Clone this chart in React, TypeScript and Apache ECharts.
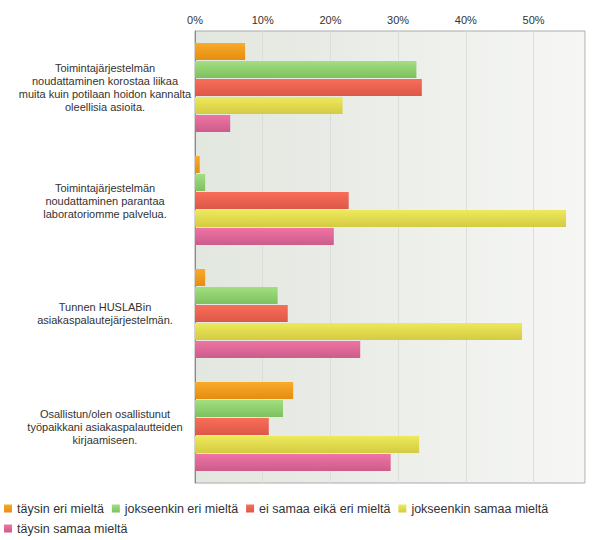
import React, { useEffect, useRef } from "react";
import * as echarts from "echarts";

const categories = [
  "Toimintajärjestelmän\nnoudattaminen korostaa liikaa\nmuita kuin potilaan hoidon kannalta\noleellisia asioita.",
  "Toimintajärjestelmän\nnoudattaminen parantaa\nlaboratoriomme palvelua.",
  "Tunnen HUSLABin\nasiakaspalautejärjestelmän.",
  "Osallistun/olen osallistunut\ntyöpaikkani asiakaspalautteiden\nkirjaamiseen.",
];

const seriesNames = [
  "täysin eri mieltä",
  "jokseenkin eri mieltä",
  "ei samaa eikä eri mieltä",
  "jokseenkin samaa mieltä",
  "täysin samaa mieltä",
];

const taysinEri = [7.4, 0.7, 1.5, 14.5];
const jokseenkinEri = [32.7, 1.5, 12.2, 13.0];
const eiSamaaEikaEri = [33.5, 22.7, 13.7, 10.9];
const jokseenkinSamaa = [21.8, 54.8, 48.3, 33.1];
const taysinSamaa = [5.2, 20.5, 24.4, 28.9];

const seriesValues = [taysinEri, jokseenkinEri, eiSamaaEikaEri, jokseenkinSamaa, taysinSamaa];

const colorsTop = ["#f9ab2a", "#a2df80", "#f86e58", "#eee95c", "#ee74a4"];
const colorsBottom = ["#e48d12", "#7dc060", "#dd5748", "#d3cb42", "#cc5c8a"];
const legendColors = ["#f5a01c", "#8fd06c", "#ee5f4c", "#dedb4e", "#e0669a"];

const FONT = "'Liberation Sans', Arial, sans-serif";

export default function App() {
  const ref = useRef<HTMLDivElement>(null);
  useEffect(() => {
    if (!ref.current) return;
    const chart = echarts.init(ref.current, undefined, { renderer: "svg" });
    const legendBase = {
      orient: "horizontal",
      icon: "rect",
      itemWidth: 8,
      itemHeight: 8,
      itemGap: 8,
      padding: 0,
      left: 4,
      textStyle: { fontSize: 12.5, color: "#333", fontFamily: FONT },
    };
    chart.setOption({
      animation: false,
      textStyle: { fontFamily: FONT },
      grid: {
        left: 195,
        top: 31,
        right: 15,
        bottom: 57,
        show: true,
        borderColor: "#aaaaaa",
        borderWidth: 1,
        backgroundColor: new echarts.graphic.LinearGradient(0, 0, 1, 0, [
          { offset: 0, color: "#e2e7df" },
          { offset: 0.5, color: "#eceee9" },
          { offset: 1, color: "#f6f7f5" },
        ]),
      },
      legend: [
        { ...legendBase, data: seriesNames.slice(0, 4), top: 502 },
        { ...legendBase, data: seriesNames.slice(4), top: 522 },
      ],
      xAxis: {
        type: "value",
        position: "top",
        min: 0,
        max: 57.6,
        interval: 10,
        axisLine: { show: false },
        axisTick: { show: false },
        splitLine: { show: true, lineStyle: { color: "#dcdedb", width: 1 } },
        axisLabel: {
          showMaxLabel: false,
          margin: 6,
          fontSize: 11,
          color: "#333",
          fontFamily: FONT,
          formatter: (v: number) => (Math.abs(v % 10) < 1e-6 ? `${v}%` : ""),
        },
      },
      yAxis: {
        type: "category",
        data: categories,
        inverse: true,
        axisTick: { show: false },
        axisLine: { show: true, lineStyle: { color: "#888", width: 1 } },
        axisLabel: {
          align: "center",
          margin: 90,
          fontSize: 11,
          lineHeight: 13,
          padding: [6, 0, 0, 0],
          color: "#333",
          fontFamily: FONT,
        },
      },
      series: seriesNames.map((name, i) => ({
        name,
        type: "bar",
        data: seriesValues[i],
        barWidth: 17,
        barGap: "6%",
        color: legendColors[i],
        itemStyle: {
          color: new echarts.graphic.LinearGradient(0, 0, 0, 1, [
            { offset: 0, color: colorsTop[i] },
            { offset: 1, color: colorsBottom[i] },
          ]),
        },
      })),
    });
    return () => chart.dispose();
  }, []);
  return <div ref={ref} style={{ width: 600, height: 540, position: "absolute", left: 0, top: 0 }} />;
}
